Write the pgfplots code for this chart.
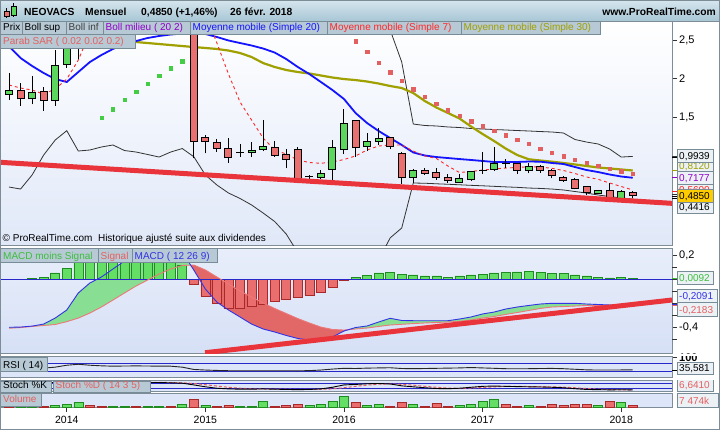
\documentclass[border=0pt]{standalone}
\usepackage{fontspec}
\setmainfont{Liberation Sans}
\usepackage{pgfplots}
\pgfplotsset{compat=1.18}
\usepackage{pgfplotstable}

\definecolor{hdrTop}{RGB}{214,230,238}
\definecolor{hdrBot}{RGB}{168,198,213}
\definecolor{boxfill}{RGB}{183,201,212}
\definecolor{boxdraw}{RGB}{120,140,152}
\definecolor{valfill}{RGB}{236,241,245}
\definecolor{frame}{RGB}{125,140,150}
\definecolor{panelbg}{RGB}{221,230,248}
\definecolor{mainbot}{RGB}{224,232,248}
\definecolor{cgreen}{RGB}{92,214,92}
\definecolor{cred}{RGB}{232,112,112}
\definecolor{sarG}{RGB}{68,204,68}
\definecolor{sarR}{RGB}{226,96,96}
\definecolor{ma20}{RGB}{20,20,255}
\definecolor{ma30}{RGB}{160,160,0}
\definecolor{ma7}{RGB}{255,40,40}
\definecolor{boll}{RGB}{50,50,50}
\definecolor{trend}{RGB}{232,52,58}
\definecolor{purp}{RGB}{144,0,200}
\definecolor{salmon}{RGB}{228,96,96}
\definecolor{macdG}{RGB}{60,190,60}
\definecolor{barG}{RGB}{100,222,100}
\definecolor{barGd}{RGB}{30,140,30}
\definecolor{barR}{RGB}{234,110,110}
\definecolor{barRd}{RGB}{170,40,40}
\definecolor{fillG}{RGB}{136,222,146}
\definecolor{fillR}{RGB}{226,104,104}
\definecolor{macdline}{RGB}{50,50,230}
\definecolor{sigline}{RGB}{236,120,120}
\definecolor{refline}{RGB}{40,40,200}
\definecolor{yell}{RGB}{255,204,0}
\definecolor{macdtop}{RGB}{232,238,250}
\definecolor{macdbot}{RGB}{214,224,246}

% monthly candles, m = months since Jan 2014
\pgfplotstableread{
m o h l c
-5 1.798 2.077 1.724 1.853
-3 1.737 2.034 1.668 1.827
-1 1.715 2.371 1.646 2.164
0 2.186 2.700 2.140 2.550
1 2.550 3.200 2.260 3.000
2 3.000 3.600 2.850 3.400
3 3.400 3.900 3.100 3.500
5 3.300 3.700 3.000 3.600
8 3.200 3.500 2.950 3.300
10 3.100 3.400 2.850 3.200
16 1.047 1.184 0.990 1.073
17 1.081 1.465 1.064 1.116
22 0.724 0.818 0.698 0.775
23 0.827 1.206 0.689 1.112
24 1.086 1.603 1.025 1.422
26 1.120 1.293 1.064 1.189
27 1.189 1.366 1.142 1.232
30 0.724 0.831 0.654 0.809
34 0.663 0.767 0.650 0.702
35 0.693 0.805 0.676 0.805
37 0.827 1.120 0.809 0.905
40 0.814 0.905 0.775 0.870
46 0.520 0.560 0.505 0.547
48 0.455 0.560 0.452 0.535
}\greencandles

\pgfplotstableread{
m o h l c
-4 1.853 1.940 1.646 1.737
-2 1.840 1.888 1.582 1.715
4 3.500 3.800 3.200 3.300
6 3.600 3.900 3.300 3.400
7 3.400 3.600 3.000 3.200
9 3.300 3.600 3.000 3.100
11 3.200 3.300 0.970 1.184
12 1.241 1.271 1.034 1.184
13 1.171 1.215 1.055 1.099
14 1.099 1.236 0.913 0.982
18 1.112 1.193 0.990 1.012
19 1.021 1.090 0.840 0.957
20 1.086 1.120 0.646 0.706
25 1.465 1.470 0.990 1.107
28 1.241 1.250 1.086 1.120
29 1.030 1.055 0.637 0.718
31 0.814 0.840 0.760 0.775
32 0.784 0.840 0.689 0.724
33 0.724 0.767 0.654 0.680
39 0.905 0.910 0.767 0.814
41 0.870 0.880 0.784 0.814
42 0.818 0.830 0.711 0.741
43 0.724 0.740 0.667 0.680
44 0.697 0.711 0.568 0.581
45 0.603 0.610 0.495 0.525
47 0.547 0.646 0.452 0.452
49 0.530 0.550 0.452 0.485
}\redcandles

\pgfplotstableread{
m o h l c
15 1.042 1.155 0.990 1.042
21 0.728 0.760 0.700 0.728
36 0.809 1.047 0.767 0.809
38 0.905 0.960 0.840 0.905
}\dojicandles

\pgfplotstableread{
m bup bdn ma20 ma7 ma30
-5 3.00 0.598 2.420 1.918 nan
-4 3.00 0.572 2.267 1.879 nan
-3 3.00 0.754 2.164 1.853 nan
-2 3.00 1.012 2.073 1.800 nan
-1 3.00 1.206 1.995 1.866 nan
0 3.00 1.327 1.957 1.995 nan
1 3.00 1.064 2.086 2.240 nan
2 3.00 1.077 2.215 2.600 nan
3 3.10 1.116 2.306 2.900 nan
4 3.20 1.142 2.384 3.100 nan
5 3.30 1.070 2.448 3.250 2.480
6 3.40 1.051 2.487 3.350 2.474
7 3.50 1.019 2.526 3.400 2.461
8 3.60 0.986 2.552 3.350 2.448
9 3.60 1.051 2.571 3.300 2.435
10 3.60 1.096 2.584 3.300 2.422
11 3.70 0.990 2.590 3.100 2.409
12 3.80 0.754 2.578 2.840 2.397
13 3.85 0.624 2.539 2.461 2.384
14 3.85 0.521 2.494 2.060 2.364
15 3.85 0.450 2.461 1.698 2.332
16 3.85 0.366 2.429 1.465 2.280
17 3.85 0.262 2.390 1.232 2.202
18 3.80 0.152 2.338 1.077 2.151
19 3.80 -0.010 2.254 1.025 2.112
20 3.75 -0.250 2.151 0.948 2.086
21 3.70 -0.450 2.060 0.915 2.067
22 3.60 -0.550 1.957 0.905 2.041
23 3.50 -0.600 1.853 0.922 2.015
24 3.40 -0.600 1.737 0.954 1.995
25 3.30 -0.550 1.556 1.000 1.982
26 3.20 -0.450 1.426 1.077 1.963
27 3.00 -0.346 1.323 1.129 1.937
28 2.630 -0.060 1.232 1.142 1.905
29 2.215 0.068 1.142 1.142 1.879
30 1.413 0.650 1.045 1.064 1.814
31 1.394 0.647 1.006 1.000 1.711
32 1.388 0.640 0.986 0.967 1.627
33 1.375 0.634 0.973 0.870 1.556
34 1.368 0.627 0.960 0.786 1.485
35 1.355 0.620 0.948 0.799 1.381
36 1.349 0.614 0.935 0.818 1.284
37 1.342 0.607 0.922 0.831 1.193
38 1.336 0.600 0.922 0.844 1.096
39 1.329 0.594 0.922 0.851 1.012
40 1.323 0.585 0.928 0.861 0.957
41 1.316 0.580 0.926 0.857 0.941
42 1.310 0.572 0.909 0.840 0.926
43 1.297 0.560 0.896 0.812 0.909
44 1.213 0.540 0.857 0.773 0.890
45 1.180 0.520 0.818 0.728 0.870
46 1.155 0.495 0.792 0.698 0.851
47 1.090 0.475 0.760 0.650 0.838
48 0.986 0.456 0.734 0.605 0.825
49 0.994 0.442 0.718 0.560 0.812
}\ind

\pgfplotstableread{
m macd sig
-5 -0.400 -0.408
-4 -0.398 -0.402
-3 -0.390 -0.393
-2 -0.373 -0.385
-1 -0.323 -0.377
0 -0.256 -0.353
1 -0.114 -0.323
2 -0.031 -0.281
3 0.019 -0.231
4 0.086 -0.173
5 0.153 -0.114
6 0.200 -0.056
7 0.245 -0.006
8 0.270 0.044
9 0.275 0.086
10 0.227 0.115
11 0.077 0.119
12 -0.081 0.078
13 -0.190 0.019
14 -0.256 -0.039
15 -0.314 -0.098
16 -0.373 -0.148
17 -0.414 -0.198
18 -0.439 -0.243
19 -0.468 -0.285
20 -0.493 -0.327
21 -0.506 -0.364
22 -0.503 -0.398
23 -0.481 -0.418
24 -0.431 -0.423
25 -0.402 -0.414
26 -0.389 -0.406
27 -0.356 -0.393
28 -0.325 -0.381
29 -0.343 -0.375
30 -0.345 -0.369
31 -0.345 -0.364
32 -0.345 -0.360
33 -0.345 -0.356
34 -0.331 -0.350
35 -0.314 -0.339
36 -0.289 -0.323
37 -0.273 -0.310
38 -0.248 -0.293
39 -0.231 -0.277
40 -0.218 -0.260
41 -0.206 -0.243
42 -0.200 -0.231
43 -0.200 -0.227
44 -0.200 -0.223
45 -0.206 -0.218
46 -0.210 -0.218
47 -0.214 -0.218
48 -0.214 -0.218
49 -0.209 -0.218
}\macdtab

\newcommand\fa{\fontsize{10bp}{12bp}\selectfont}
\newcommand\fb{\fontsize{10.3bp}{12bp}\selectfont\bfseries}

% label box on the panels
\newcommand{\lbox}[6]{%
  \filldraw[fill=boxfill,draw=boxdraw,line width=0.7bp] (#1,#2) rectangle (#3,#4);
  \node[anchor=base west,inner sep=0,text=#5,font=\fa] at ({#1+2.5},{#4-3.5}) {#6};}
% value box on the right scale
\newcommand{\valbox}[6]{%
  \filldraw[fill=#5,draw=boxdraw,line width=0.7bp] (677,#1) rectangle (#2,#3);
  \node[anchor=base west,inner sep=0,text=#4,font=\fa] at (679,{#3-3}) {#6};}

\pgfplotsset{
  panel/.style={
    scale only axis, width=672bp, xmin=-5.78, xmax=52.4,
    anchor=north west,
    axis line style={draw=frame, line width=0.8bp},
    xtick=\empty, ytick=\empty,
    ytick pos=right, yticklabel pos=right,
    tick align=outside, major tick length=5bp,
    tick style={draw=black!80, line width=0.7bp},
    yticklabel style={font=\fontsize{11bp}{13bp}\selectfont, inner sep=2bp},
    xticklabel style={font=\fontsize{10.5bp}{12bp}\selectfont, yshift=-1bp},
    axis background/.style={fill=panelbg},
  },
  wick/.style={draw=none, mark=none, forget plot,
    error bars/.cd, y dir=plus, y explicit, error mark=none,
    error bar style={draw=black, line width=1bp}},
  boxout/.style={draw=none, mark=none, forget plot,
    error bars/.cd, y dir=plus, y explicit, error mark=none,
    error bar style={draw=black, line width=8bp}},
  boxin/.style={draw=none, mark=none, forget plot,
    error bars/.cd, y dir=plus, y explicit, error mark=none,
    error bar style={draw=#1, line width=6bp}},
}

\newcommand{\wicks}[1]{\addplot[wick] table[x=m, y=l, y error expr=\thisrow{h}-\thisrow{l}] {#1};}
\newcommand{\outline}[1]{\addplot[boxout] table[x=m, y expr={min(\thisrow{o},\thisrow{c})-0.0065}, y error expr={abs(\thisrow{c}-\thisrow{o})+0.013}] {#1};}
\newcommand{\bodies}[2]{\addplot[boxin=#2] table[x=m, y expr={min(\thisrow{o},\thisrow{c})+0.0065}, y error expr={max(abs(\thisrow{c}-\thisrow{o})-0.013,0)}] {#1};}

\begin{document}
\begin{tikzpicture}
\useasboundingbox (0,0) rectangle (720bp,-430bp);
\fill[white] (0,0) rectangle (720bp,-430bp);

% ---------------- price panel ----------------
\begin{axis}[panel, at={(0bp,-21bp)}, height=224bp,
  ymin=-0.152, ymax=2.746,
  ytick={1.5,2,2.5}, yticklabels={{1,5},{2},{2,5}},
  extra y ticks={0.5,1}, extra y tick labels={},
  clip marker paths=true,
  axis background/.style={shade, top color=white, bottom color=mainbot}]
  \addplot[boll, line width=0.8bp] table[x=m, y=bup] {\ind};
  \addplot[boll, line width=0.8bp] table[x=m, y=bdn] {\ind};
  \addplot[ma30, line width=2.2bp] table[x=m, y=ma30] {\ind};
  \addplot[ma20, line width=1.8bp] table[x=m, y=ma20] {\ind};
  \addplot[ma7, line width=0.9bp, dash pattern=on 3bp off 3bp] table[x=m, y=ma7] {\ind};
  \wicks{\greencandles}\wicks{\redcandles}\wicks{\dojicandles}
  \outline{\greencandles}\outline{\redcandles}\outline{\dojicandles}
  \bodies{\greencandles}{cgreen}\bodies{\redcandles}{cred}
  % parabolic SAR
  \addplot[only marks, mark=square*, mark size=1.7bp, sarG, mark options={draw=sarG, fill=sarG}]
    coordinates {(3,1.495)(4,1.607)(5,1.724)(6,1.831)(7,1.931)(8,2.038)(9,2.133)(10,2.228)};
  \addplot[only marks, mark=square*, mark size=1.7bp, sarR, mark options={draw=sarR, fill=sarR}]
    coordinates {(12,3.40)(13,3.35)(14,3.30)(15,3.25)(16,3.20)(17,3.15)(18,3.10)(19,3.05)(20,3.00)
    (21,2.95)(22,2.87)(23,2.78)(24,2.63)(25,2.487)(26,2.345)(27,2.209)(28,2.086)(29,1.976)
    (30,1.866)(31,1.769)(32,1.679)(33,1.594)(34,1.523)(35,1.452)(36,1.387)(37,1.323)(38,1.271)
    (39,1.213)(40,1.155)(41,1.096)(42,1.044)(43,0.999)(44,0.954)(45,0.915)(46,0.876)(47,0.838)
    (48,0.805)(49,0.767)};
  % support line
  \addplot[trend, line width=5bp] coordinates {(-5.78,0.918) (52.4,0.387)};
\end{axis}

% ---------------- MACD panel ----------------
\begin{axis}[panel, at={(0bp,-248bp)}, height=105bp,
  ymin=-0.6142, ymax=0.2608,
  ytick={0.2,-0.4}, yticklabels={{0,2},{-0,4}},
  extra y ticks={0.1,0,-0.1,-0.2,-0.3,-0.5}, extra y tick labels={},
  axis background/.style={shade, top color=macdtop, bottom color=macdbot}]
  % area between MACD and signal (green above, red below)
  \addplot[fill=fillG, draw=none] coordinates {
    (-5,-0.400)(-4,-0.398)(-3,-0.390)(-2,-0.373)(-1,-0.323)(0,-0.256)(1,-0.114)(2,-0.031)
    (3,0.019)(4,0.086)(5,0.153)(6,0.200)(7,0.245)(8,0.270)(9,0.275)(10,0.227)(10.73,0.1175)
    (10,0.115)(9,0.086)(8,0.044)(7,-0.006)(6,-0.056)(5,-0.114)(4,-0.173)(3,-0.231)(2,-0.281)
    (1,-0.323)(0,-0.353)(-1,-0.377)(-2,-0.385)(-3,-0.393)(-4,-0.402)(-5,-0.408)};
  \addplot[fill=fillR, draw=none] coordinates {
    (10.73,0.1175)(11,0.077)(12,-0.081)(13,-0.190)(14,-0.256)(15,-0.314)(16,-0.373)(17,-0.414)
    (18,-0.439)(19,-0.468)(20,-0.493)(21,-0.506)(22,-0.503)(23,-0.481)(24,-0.431)(24.4,-0.4194)
    (24,-0.423)(23,-0.418)(22,-0.398)(21,-0.364)(20,-0.327)(19,-0.285)(18,-0.243)(17,-0.198)
    (16,-0.148)(15,-0.098)(14,-0.039)(13,0.019)(12,0.078)(11,0.119)};
  \addplot[fill=fillG, draw=none] coordinates {
    (24.4,-0.4194)(25,-0.402)(26,-0.389)(27,-0.356)(28,-0.325)(29,-0.343)(30,-0.345)(31,-0.345)
    (32,-0.345)(33,-0.345)(34,-0.331)(35,-0.314)(36,-0.289)(37,-0.273)(38,-0.248)(39,-0.231)
    (40,-0.218)(41,-0.206)(42,-0.200)(43,-0.200)(44,-0.200)(45,-0.206)(46,-0.210)(47,-0.214)
    (48,-0.214)(49,-0.209)(49,-0.218)(48,-0.218)(47,-0.218)(46,-0.218)(45,-0.218)(44,-0.223)
    (43,-0.227)(42,-0.231)(41,-0.243)(40,-0.260)(39,-0.277)(38,-0.293)(37,-0.310)(36,-0.323)
    (35,-0.339)(34,-0.350)(33,-0.356)(32,-0.360)(31,-0.364)(30,-0.369)(29,-0.375)(28,-0.381)
    (27,-0.393)(26,-0.406)(25,-0.414)};
  \addplot[ybar, bar width=9bp, bar shift=0pt, fill=barG, draw=barGd, line width=0.6bp] coordinates {
    (-3,0.008)(-2,0.017)(-1,0.053)(0,0.092)(1,0.15)(2,0.20)(3,0.24)(4,0.26)(5,0.27)(6,0.26)
    (7,0.25)(8,0.22)(9,0.19)(10,0.119)
    (25,0.017)(26,0.033)(27,0.053)(28,0.058)(29,0.044)(30,0.036)(31,0.028)(32,0.028)(33,0.019)
    (34,0.028)(35,0.036)(36,0.044)(37,0.053)(38,0.058)(39,0.061)(40,0.067)(41,0.058)(42,0.050)
    (43,0.050)(44,0.036)(45,0.028)(46,0.019)(47,0.011)(48,0.019)(49,0.0092)};
  \addplot[ybar, bar width=9bp, bar shift=0pt, fill=barR, draw=barRd, line width=0.6bp] coordinates {
    (-5,-0.004)(11,-0.042)(12,-0.139)(13,-0.200)(14,-0.242)(15,-0.242)(16,-0.228)(17,-0.208)
    (18,-0.186)(19,-0.167)(20,-0.150)(21,-0.131)(22,-0.108)(23,-0.067)(24,-0.012)};
  \addplot[refline, line width=0.9bp] coordinates {(-5.78,0) (52.4,0)};
  \addplot[sigline, line width=0.9bp] table[x=m, y=sig] {\macdtab};
  \addplot[macdline, line width=0.9bp] table[x=m, y=macd] {\macdtab};
  \addplot[trend, line width=5bp] coordinates {(11.97,-0.612) (52.4,-0.1725)};
\end{axis}

% ---------------- RSI ----------------
\begin{axis}[panel, at={(0bp,-356.7bp)}, height=20.5bp,
  ymin=-2.2, ymax=104.3, ytick={100}, yticklabels={100},
  yticklabel style={font=\fontsize{11bp}{13bp}\selectfont\bfseries}]
  \addplot[refline, line width=0.8bp] coordinates {(-5.78,70) (52.4,70)};
  \addplot[refline, line width=0.8bp] coordinates {(-5.78,30) (52.4,30)};
  \addplot[black!85, line width=0.9bp] coordinates {
    (-5,44)(-4,43)(-3,43.5)(-2,45)(-1,50)(0,60)(1,65)(2,60)(3,57)(4,55)(5,56)(6,56.5)(7,56)
    (8,55)(9,55)(10,50)(11,38)(12,35)(13,33)(14,31.5)(15,31.5)(16,31.5)(17,31.5)(18,31.5)
    (19,31.5)(20,31)(21,32)(22,35)(23,40)(24,44)(25,43)(26,45)(27,46)(28,47)(29,43)(30,42)
    (31,43)(32,44)(33,45)(34,46)(35,48)(36,46)(37,44)(38,42)(39,41.5)(40,42)(41,43)(42,43.5)
    (43,42)(44,39)(45,36)(46,35)(47,35)(48,35.5)(49,35.581)};
\end{axis}

% ---------------- Stochastic ----------------
\begin{axis}[panel, at={(0bp,-380.7bp)}, height=11bp, ymin=-11.6, ymax=104.2]
  \addplot[refline, line width=0.8bp] coordinates {(-5.78,80) (52.4,80)};
  \addplot[refline, line width=0.8bp] coordinates {(-5.78,20) (52.4,20)};
  \addplot[salmon, line width=1bp, dash pattern=on 3bp off 2bp] coordinates {
    (-5,80)(0,84)(4,86)(8,86)(9,85)(10,82)(11,75)(12,62)(13,48)(14,35)(15,25)(16,19)(17,17)
    (18,16)(19,15)(20,13)(21,12)(22,13)(23,18)(24,30)(25,45)(26,58)(27,67)(28,71)(29,66)
    (30,57)(31,45)(32,35)(33,27)(34,23)(35,26)(36,32)(37,40)(38,44)(39,45)(40,43)(41,41)
    (42,40)(43,36)(44,30)(45,22)(46,15)(47,11)(48,8)(49,6.641)};
  \addplot[black, line width=0.9bp] coordinates {
    (-5,82)(0,86)(4,88)(8,85)(9,82)(10,78)(11,60)(12,40)(13,25)(14,18)(15,15)(16,15)(17,18)
    (18,15)(19,12)(20,10)(21,12)(22,18)(23,35)(24,60)(25,65)(26,72)(27,75)(28,70)(29,50)
    (30,40)(31,30)(32,22)(33,20)(34,25)(35,35)(36,45)(37,48)(38,45)(39,42)(40,40)(41,38)
    (42,35)(43,30)(44,20)(45,12)(46,10)(47,8)(48,9)(49,8)};
\end{axis}

% ---------------- Volume ----------------
\begin{axis}[panel, at={(0bp,-393.5bp)}, height=14bp, ymin=0, ymax=47600,
  xtick={0,12,24,36,48}, xticklabels={2014,2015,2016,2017,2018},
  xtick pos=left, xticklabel pos=left, major tick length=4bp]
  \addplot[ybar, bar width=9bp, bar shift=0pt, fill=barG, draw=barGd, line width=0.6bp] coordinates {
    (-4,5000)(-3,5000)(-1,8500)(0,11900)(1,18700)(4,5100)(5,5100)(7,5100)(8,5100)(10,11900)
    (12,8500)(15,5100)(16,5100)(17,22100)(21,8500)(22,11900)(23,22100)(24,39100)(26,8500)
    (27,11900)(30,11900)(34,8500)(35,11900)(36,22100)(37,28900)(40,8500)(46,8500)(48,16400)};
  \addplot[ybar, bar width=9bp, bar shift=0pt, fill=barR, draw=barRd, line width=0.6bp] coordinates {
    (-5,5000)(-2,5100)(2,8500)(3,5100)(6,5100)(9,5100)(11,28900)(13,5100)(14,8500)(18,5100)
    (19,8500)(20,11900)(25,16400)(28,5100)(29,16400)(31,5100)(32,13600)(33,5100)(38,11900)
    (39,5100)(41,5100)(42,11900)(43,8500)(44,11900)(45,11900)(47,22100)(49,7474)};
\end{axis}

% ---------------- overlays ----------------
\begin{scope}[x=1bp,y=-1bp]
  % header bar
  \shade[top color=hdrTop, bottom color=hdrBot] (0,0) rectangle (720,21);
  \draw[frame, line width=0.8bp] (0,21) -- (720,21);
  \draw[black, line width=0.6bp] (6.7,8.3) -- (6.7,18.3);
  \filldraw[fill=cred, draw=black, line width=0.5bp] (4,11) rectangle (9.3,16.7);
  \draw[black, line width=0.6bp] (13.5,3.3) -- (13.5,16.7);
  \filldraw[fill=cgreen, draw=black, line width=0.5bp] (11,6) rectangle (16,15);
  \node[anchor=base west, inner sep=0, font=\fb] at (24,15) {NEOVACS};
  \node[anchor=base west, inner sep=0, font=\fb] at (85,15) {Mensuel};
  \node[anchor=base west, inner sep=0, font=\fb] at (141,15) {0,4850 (+1,46\%)};
  \node[anchor=base west, inner sep=0, font=\fb] at (230,15) {26 févr. 2018};
  \node[anchor=base east, inner sep=0, font=\fb] at (716,15) {www.ProRealTime.com};

  % price panel labels
  \lbox{0.5}{21}{22}{34}{black}{Prix}
  \lbox{22}{21}{66}{34}{black}{Boll sup}
  \lbox{66}{21}{103}{34}{black!75}{Boll inf}
  \lbox{103}{21}{190}{34}{purp}{Boll milieu ( 20 2)}
  \lbox{190}{21}{327}{34}{ma20}{Moyenne mobile (Simple 20)}
  \lbox{327}{21}{461}{34}{ma7}{Moyenne mobile (Simple 7)}
  \lbox{461}{21}{600}{34}{ma30}{Moyenne mobile (Simple 30)}
  \lbox{0.5}{34}{135}{48}{salmon}{Parab SAR ( 0.02 0.02 0.2)}
  \node[anchor=base west, inner sep=0, font=\fa] at (2.5,241.7)
    {© ProRealTime.com\ \ Historique ajusté suite aux dividendes};

  % lower panel labels
  \lbox{0.5}{248.5}{98}{262.5}{macdG}{MACD moins Signal}
  \lbox{98}{248.5}{132}{262.5}{salmon}{Signal}
  \lbox{132}{248.5}{217}{262.5}{macdline}{MACD ( 12 26 9)}
  \lbox{0.5}{357}{47.5}{371.5}{black}{RSI ( 14)}
  \lbox{0.5}{381}{51.5}{392}{black}{Stoch \%K}
  \lbox{53}{381}{150.5}{392}{salmon}{Stoch \%D ( 14 3 5)}
  \lbox{0.5}{393.5}{41.5}{406}{salmon}{Volume}

  % right scale value markers
  \foreach \yy/\cc in {157/black, 170/ma30, 177.7/purp, 191/ma7, 196/black, 198.5/black,
      278.2/macdG, 304.4/macdline, 305.5/salmon, 370/black}
    \draw[\cc, line width=1bp] (672,\yy) -- (677,\yy);
  % price value boxes
  \valbox{159}{713}{172}{ma30}{valfill}{0,8120}
  \valbox{183}{713}{196}{ma7}{valfill}{0,5600}
  \valbox{200}{713}{213}{black}{valfill}{0,4416}
  \valbox{149.5}{713}{162.5}{black}{valfill}{0,9939}
  \valbox{171}{713}{184}{purp}{valfill}{0,7177}
  \valbox{189}{713}{202}{black}{yell}{0,4850}
  % MACD value boxes
  \valbox{271.5}{713}{284}{macdG}{valfill}{0,0092}
  \valbox{289.5}{717}{302.5}{macdline}{valfill}{-0,2091}
  \valbox{302.5}{717}{316}{salmon}{valfill}{-0,2183}
  % RSI / Stoch / Volume value boxes
  \fill[white] (673,353.6) rectangle (720,356.2);
  \valbox{362}{713}{374.5}{black}{valfill}{35,581}
  \valbox{378}{713}{391}{salmon}{valfill}{6,6410}
  \fill[white] (673,374.9) rectangle (720,380.3);
  \valbox{393.5}{718}{407}{salmon}{valfill}{7 474k}

  % outer frame
  \draw[frame, line width=1bp] (0.5,0.5) rectangle (719.5,429.5);
\end{scope}
\end{tikzpicture}
\end{document}
